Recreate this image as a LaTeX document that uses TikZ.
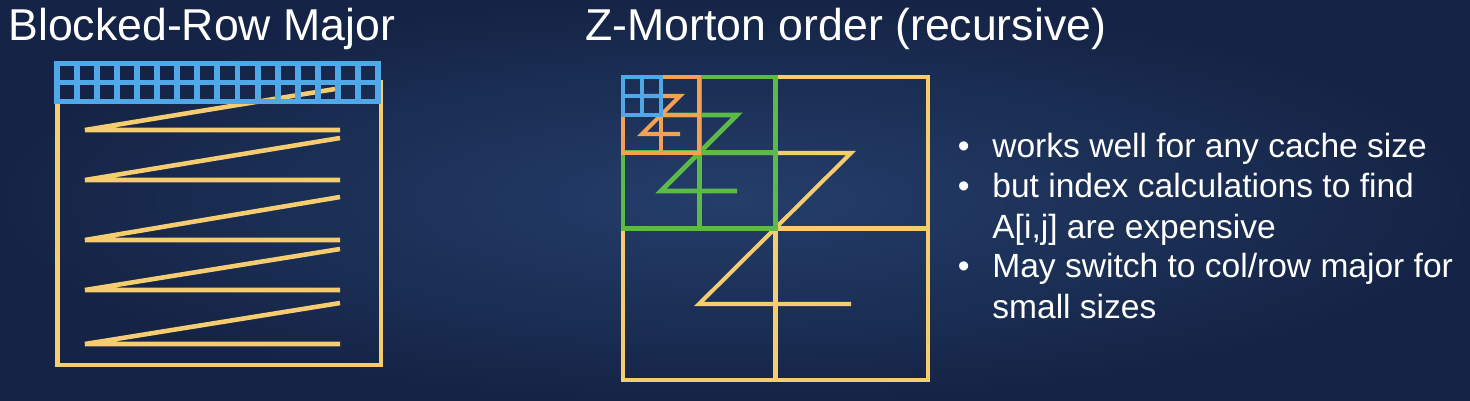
\documentclass[tikz,border=0pt]{standalone}
\usepackage{fontspec}
\setmainfont{Liberation Sans}
\usepackage{xcolor}
\usetikzlibrary{positioning, calc}

\definecolor{fondo}{RGB}{36,62,106}
\definecolor{fondoosc}{RGB}{21,36,70}
\definecolor{amarillo}{RGB}{246,204,112}
\definecolor{azul}{RGB}{80,168,232}
\definecolor{verde}{RGB}{92,186,72}
\definecolor{naranja}{RGB}{242,162,82}

\begin{document}
\begin{tikzpicture}[x=0.02cm, y=-0.02cm, text=white,
    titulo/.style={font=\fontsize{25.4}{30}\selectfont, inner sep=0pt, anchor=base west},
    punto/.style={font=\fontsize{19.1}{22.8}\selectfont, inner sep=0pt, anchor=base west, align=left},
    linea/.style={line width=2.6pt},
    rejilla/.style={azul, line width=3.4pt, line cap=rect}]

    % Fondo
    \shade[inner color=fondo, outer color=fondoosc] (0,0) rectangle (1470,400);
    \useasboundingbox (0,0) rectangle (1470,400);

    % Titulos
    \node[titulo] (tbloques) at (8,40) {Blocked-Row Major};
    \node[titulo] (tmorton) at (585,40) {Z-Morton order (recursive)};

    % Matriz por bloques de filas
    \draw[amarillo, linea] (57.5,80) -- (57.5,365) -- (381,365) -- (381,80);
    \foreach \xa/\ya/\yb in {335/89/130, 340/138/180, 340/197/240, 340/249/290, 340/303/344}
        \draw[amarillo, linea] (\xa,\ya) -- (85,\yb) -- (340,\yb);

    % Bloque en cache (rejilla azul)
    \foreach \i in {0,...,16}
        \draw[rejilla] ({56.6+20.1*\i},63.5) -- ({56.6+20.1*\i},101.5);
    \foreach \y in {63.5,82.5,101.5}
        \draw[rejilla] (56.6,\y) -- (378.2,\y);

    % Orden Z-Morton: nivel 1
    \draw[amarillo, line width=2.3pt] (623,77) rectangle (928,380);
    \draw[amarillo, line width=2.3pt] (775.5,77) -- (775.5,380) (623,228.5) -- (928,228.5);
    \draw[amarillo, line width=2.3pt] (699,153) -- (851,153) -- (699,304) -- (851,304);

    % nivel 2
    \draw[verde, line width=2.8pt] (623,77) rectangle (775.5,228.5);
    \draw[verde, line width=2.8pt] (699.25,77) -- (699.25,228.5) (623,152.75) -- (775.5,152.75);
    \draw[verde, line width=2.8pt] (661,115) -- (737,115) -- (661,191) -- (737,191);

    % nivel 3
    \draw[naranja, line width=2.4pt] (623,77) rectangle (699.25,152.75);
    \draw[naranja, line width=2.4pt] (661,77) -- (661,152.75) (623,115) -- (699.25,115);
    \draw[naranja, line width=2.4pt] (642,96) -- (680,96) -- (642,134) -- (680,134);

    % nivel 4
    \draw[azul, line width=2.4pt] (623,77) rectangle (661,115);
    \draw[azul, line width=2.4pt] (642,77) -- (642,115) (623,96) -- (661,96);

    % Texto (base = ultima linea)
    \node[punto] (p1) at (992,157) {\llap{\textbullet\hspace{13pt}}works well for any cache size};
    \node[punto] (p2) at (992,238) {\llap{\textbullet\hspace{13pt}}but index calculations to find\\A[i,j] are expensive};
    \node[punto] (p3) at (992,318) {\llap{\textbullet\hspace{13pt}}May switch to col/row major for\\small sizes};

\end{tikzpicture}
\end{document}
